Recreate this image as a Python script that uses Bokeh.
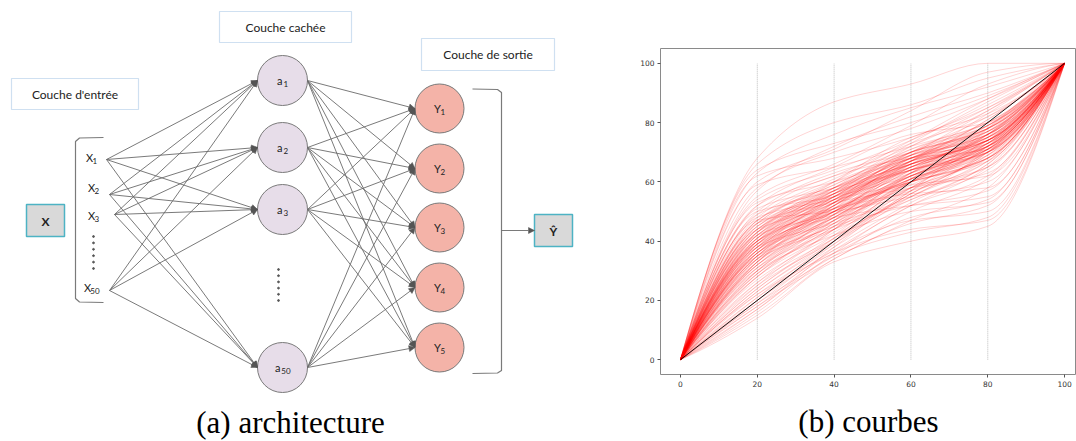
import numpy as np
from bokeh.plotting import figure
from bokeh.layouts import row
from bokeh.models import Range1d, Arrow, NormalHead, ColumnDataSource, FixedTicker
from bokeh.core.properties import value
from bokeh.embed import file_html
from bokeh.resources import INLINE

# ---------------- data (right panel: curves) ----------------
knot_x = [0, 20, 40, 60, 80, 100]
start_y = 0
end_y = 100
y_at_20 = [68, 66, 63, 64, 60, 58, 62, 57, 55, 59, 54, 52, 50, 53, 48, 51, 47, 49, 46, 50,
           45, 52, 48, 44, 46, 49, 43, 47, 42, 40, 41, 38, 39, 37, 42, 36, 40, 35, 44, 38,
           41, 37, 39, 36, 43, 35, 40, 38, 34, 33, 32, 30, 34, 31, 29, 33, 28, 32, 30, 27,
           31, 29, 26, 34, 28, 25, 33, 30, 24, 23, 22, 25, 21, 24, 20, 22, 19, 23, 21, 18,
           16, 14, 17, 15, 19, 17, 20, 18, 45, 42, 39, 44, 36, 41, 47, 37, 43, 40, 46, 35,
           38, 40, 36, 42, 34, 39, 37, 44, 35, 41, 33, 38, 43, 36, 39, 45, 32, 40, 37, 42,
           30, 35, 41, 38, 44, 31, 36, 39, 43, 34, 28, 47, 33, 40, 37, 29, 46, 32, 35, 26]
y_at_40 = [87, 80, 76, 73, 71, 70, 68, 72, 66, 65, 64, 62, 63, 60, 61, 58, 59, 57, 60, 55,
           56, 65, 54, 58, 53, 62, 57, 50, 55, 52, 54, 50, 53, 51, 49, 48, 56, 47, 51, 46,
           58, 54, 48, 52, 60, 45, 50, 55, 50, 47, 49, 46, 44, 48, 45, 51, 43, 45, 49, 42,
           44, 47, 41, 53, 46, 40, 48, 42, 42, 40, 39, 44, 38, 41, 37, 36, 35, 41, 40, 34,
           36, 33, 35, 34, 37, 38, 39, 36, 57, 56, 55, 55, 50, 53, 58, 49, 54, 57, 59, 51,
           52, 54, 51, 57, 49, 53, 55, 56, 50, 55, 50, 54, 55, 53, 51, 58, 48, 53, 52, 54,
           47, 53, 56, 50, 57, 46, 49, 56, 58, 48, 45, 60, 52, 51, 50, 44, 56, 47, 52, 44]
y_at_60 = [93, 86, 85, 80, 84, 78, 75, 82, 79, 72, 74, 73, 70, 68, 72, 66, 71, 64, 74, 62,
           67, 76, 60, 69, 58, 68, 72, 55, 66, 64, 70, 62, 67, 60, 57, 63, 71, 58, 56, 55,
           73, 65, 52, 69, 75, 60, 59, 68, 64, 61, 66, 59, 54, 62, 63, 68, 57, 52, 67, 55,
           58, 65, 56, 70, 61, 54, 58, 50, 60, 58, 55, 62, 53, 57, 52, 48, 50, 61, 56, 47,
           52, 40, 43, 46, 47, 56, 57, 44, 66, 68, 69, 64, 65, 63, 67, 61, 65, 70, 70, 66,
           65, 66, 63, 68, 62, 64, 69, 67, 64, 67, 66, 68, 65, 67, 62, 68, 63, 65, 66, 64,
           62, 68, 66, 61, 69, 60, 63, 70, 70, 61, 60, 69, 67, 60, 60, 58, 64, 60, 67, 61]
y_at_80 = [100, 95, 92, 89, 97, 88, 85, 90, 93, 80, 86, 82, 78, 76, 84, 74, 79, 70, 88, 72,
           81, 80, 68, 77, 63, 71, 85, 60, 75, 73, 82, 70, 78, 68, 65, 76, 80, 69, 58, 71,
           87, 72, 55, 84, 83, 73, 62, 74, 77, 71, 79, 70, 66, 72, 78, 76, 69, 57, 83, 67,
           75, 74, 70, 79, 68, 64, 65, 53, 73, 72, 68, 71, 66, 78, 65, 54, 61, 76, 70, 58,
           62, 45, 48, 52, 50, 67, 72, 47, 72, 76, 79, 71, 75, 70, 74, 71, 73, 77, 78, 74,
           75, 74, 72, 77, 73, 71, 78, 75, 76, 73, 76, 79, 72, 77, 72, 74, 74, 76, 74, 72,
           73, 78, 73, 70, 76, 71, 74, 80, 78, 69, 71, 75, 75, 68, 67, 68, 70, 70, 81, 74]
guide_x = [20, 40, 60, 80]
axis_ticks = [0, 20, 40, 60, 80, 100]

# ---------------- data (left panel: diagram texts) ----------------
layer_titles = ["Couche d'entrée", "Couche cachée", "Couche de sortie"]
input_main, input_subs = "X", ["1", "2", "3", "50"]
hidden_main, hidden_subs = "a", ["1", "2", "3", "50"]
output_main, output_subs = "Y", ["1", "2", "3", "4", "5"]
input_box_text = "X"
result_box_text = "Ŷ"
captions = ["(a) architecture", "(b) courbes"]

# ---------------- layout constants (pixel positions of the schematic) ----------------
title_boxes = [(11, 138, 78, 109), (219, 351, 11, 42), (421, 554, 38, 70)]
input_label_pos = [(91, 157), (93, 187), (93, 215), (91, 287)]
input_ports = [(106, 159), (109, 194), (114, 214), (109, 290)]
hidden_cx, hidden_cy, hidden_r = 282, [80, 147, 209, 367], 25
output_cx, output_cy, output_r = 439, [108, 168, 227, 287, 347], 24.5

FONT = value("Lato")
EDGE = "#6b6b6b"


def no_align(p):
    try:
        p.frame_align = False
    except Exception:
        pass


L = figure(width=600, height=441, x_range=Range1d(0, 600), y_range=Range1d(441, 0),
           toolbar_location=None, output_backend="svg", min_border=0,
           x_axis_location=None, y_axis_location=None)
no_align(L)
L.outline_line_color = None
L.xgrid.visible = False
L.ygrid.visible = False

# layer title boxes
L.quad(left=[b[0] for b in title_boxes], right=[b[1] for b in title_boxes],
       top=[b[2] for b in title_boxes], bottom=[b[3] for b in title_boxes],
       fill_color="white", line_color="#cfe0f1", line_width=1.2)
L.text(x=[(b[0] + b[1]) / 2 for b in title_boxes], y=[(b[2] + b[3]) / 2 for b in title_boxes],
       text=layer_titles, text_font=FONT, text_font_size="12px", text_align="center",
       text_baseline="middle", text_color="#222222")

# X and Y-hat boxes
L.quad(left=[26, 534], right=[64, 572], top=[204, 214], bottom=[236, 246],
       fill_color="#d9d9d9", line_color="#4db3c4", line_width=1.5)
L.text(x=[45, 553], y=[221, 231], text=[input_box_text, result_box_text], text_font=FONT,
       text_font_size="12px", text_font_style="bold", text_align="center",
       text_baseline="middle", text_color="#222222")

# brackets
L.line(x=[103, 79, 75, 75, 79, 103], y=[137, 137.5, 141, 298, 301.5, 302],
       line_color="#7a7a7a", line_width=1.2)
L.line(x=[472, 497, 501, 501, 497, 472], y=[88.5, 89, 92, 370, 372.5, 373],
       line_color="#7a7a7a", line_width=1.2)

# edges input -> hidden
xs0, ys0, xs1, ys1 = [], [], [], []
for (px, py) in input_ports:
    for hy in hidden_cy:
        xs0.append(px); ys0.append(py); xs1.append(hidden_cx - hidden_r); ys1.append(hy)
# edges hidden -> output
for hy in hidden_cy:
    for oy in output_cy:
        xs0.append(hidden_cx + hidden_r); ys0.append(hy)
        xs1.append(output_cx - output_r); ys1.append(oy)
# arrow to result box
xs0.append(501); ys0.append(230); xs1.append(534); ys1.append(230)
esrc = ColumnDataSource(dict(x0=xs0, y0=ys0, x1=xs1, y1=ys1))
L.add_layout(Arrow(source=esrc, x_start="x0", y_start="y0", x_end="x1", y_end="y1",
                   line_color=EDGE, line_width=0.9,
                   end=NormalHead(size=6, fill_color="#555555", line_color="#555555",
                                  line_width=0.5)))

# nodes
L.circle(x=[hidden_cx] * len(hidden_cy), y=hidden_cy, radius=hidden_r,
         fill_color="#e7dde9", line_color="#7a7a7a", line_width=1)
L.circle(x=[output_cx] * len(output_cy), y=output_cy, radius=output_r,
         fill_color="#f4b3a8", line_color="#7a7a7a", line_width=1)

# dots
L.scatter(x=[93] * 6, y=list(np.linspace(236, 268, 6)), size=1.8, color="#555555")
L.scatter(x=[278] * 6, y=list(np.linspace(269, 300, 6)), size=1.8, color="#555555")


def sub_labels(fig, centers, main, subs, size_main=11, size_sub=8):
    mx, my, sx, sy, mt, st = [], [], [], [], [], []
    for (cx, cy), s in zip(centers, subs):
        wm = 0.58 * size_main
        ws = 0.55 * size_sub * len(s)
        x0 = cx - (wm + ws) / 2
        mx.append(x0); my.append(cy); mt.append(main)
        sx.append(x0 + wm); sy.append(cy + 3); st.append(s)
    fig.text(x=mx, y=my, text=mt, text_font=FONT, text_font_size=f"{size_main}px",
             text_align="left", text_baseline="middle", text_color="#222222")
    fig.text(x=sx, y=sy, text=st, text_font=FONT, text_font_size=f"{size_sub}px",
             text_align="left", text_baseline="middle", text_color="#222222")


sub_labels(L, input_label_pos, input_main, input_subs)
sub_labels(L, [(hidden_cx, y) for y in hidden_cy], hidden_main, hidden_subs)
sub_labels(L, [(output_cx, y) for y in output_cy], output_main, output_subs)

# caption (a)
L.text(x=[290], y=[422], text=[captions[0]], text_font=value("Liberation Serif"),
       text_font_size="31px", text_align="center", text_baseline="middle",
       text_color="black")

# ---------------- right panel ----------------
R = figure(width=476, height=441, x_range=Range1d(-5.2, 103.1), y_range=Range1d(-5, 105),
           toolbar_location=None, output_backend="svg",
           min_border_left=60, min_border_right=0, min_border_top=48, min_border_bottom=63)
no_align(R)
R.grid.visible = False
R.outline_line_color = "#8a8a8a"
R.outline_line_width = 1
R.axis.axis_line_color = None
R.xaxis.ticker = FixedTicker(ticks=axis_ticks)
R.yaxis.ticker = FixedTicker(ticks=axis_ticks)
R.axis.major_label_text_font = "DejaVu Sans"
R.axis.major_label_text_font_size = "7.5px"
R.axis.major_label_text_color = "#333333"
R.axis.major_tick_in = 0
R.axis.major_tick_out = 3
R.axis.major_tick_line_color = "#555555"
R.axis.major_label_standoff = 3
R.xaxis.axis_label = captions[1]
R.xaxis.axis_label_text_font = "Liberation Serif"
R.xaxis.axis_label_text_font_size = "31px"
R.xaxis.axis_label_text_font_style = "normal"
R.xaxis.axis_label_text_color = "black"
R.xaxis.axis_label_standoff = 14

R.segment(x0=guide_x, y0=[start_y] * 4, x1=guide_x, y1=[end_y] * 4,
          line_color="#bdbdbd", line_width=1, line_dash="1 1")


def pchip_slopes(xs, ys):
    xs = np.asarray(xs, float); ys = np.asarray(ys, float)
    h = np.diff(xs); d = np.diff(ys) / h
    n = len(xs); m = np.zeros(n)
    for k in range(1, n - 1):
        if d[k - 1] * d[k] > 0:
            w1 = 2 * h[k] + h[k - 1]; w2 = h[k] + 2 * h[k - 1]
            m[k] = (w1 + w2) / (w1 / d[k - 1] + w2 / d[k])

    def end(h0, h1, d0, d1):
        mm = ((2 * h0 + h1) * d0 - h0 * d1) / (h0 + h1)
        if np.sign(mm) != np.sign(d0):
            mm = 0.0
        elif np.sign(d0) != np.sign(d1) and abs(mm) > abs(3 * d0):
            mm = 3 * d0
        return mm
    m[0] = end(h[0], h[1], d[0], d[1])
    m[-1] = end(h[-1], h[-2], d[-1], d[-2])
    return m


bx0, by0, bx1, by1, cx0, cy0, cx1, cy1 = ([] for _ in range(8))
for a, b, c, d in zip(y_at_20, y_at_40, y_at_60, y_at_80):
    ys = [start_y, a, b, c, d, end_y]
    m = pchip_slopes(knot_x, ys)
    for k in range(len(knot_x) - 1):
        hh = knot_x[k + 1] - knot_x[k]
        bx0.append(knot_x[k]); by0.append(ys[k])
        bx1.append(knot_x[k + 1]); by1.append(ys[k + 1])
        cx0.append(knot_x[k] + hh / 3); cy0.append(ys[k] + m[k] * hh / 3)
        cx1.append(knot_x[k + 1] - hh / 3); cy1.append(ys[k + 1] - m[k + 1] * hh / 3)

R.bezier(x0=bx0, y0=by0, x1=bx1, y1=by1, cx0=cx0, cy0=cy0, cx1=cx1, cy1=cy1,
         line_color="red", line_alpha=0.17, line_width=1)
R.line(x=[knot_x[0], knot_x[-1]], y=[start_y, end_y], line_color="black", line_width=1,
       line_alpha=0.9)

layout = row(L, R)
open("out.html", "w").write(file_html(layout, INLINE))
